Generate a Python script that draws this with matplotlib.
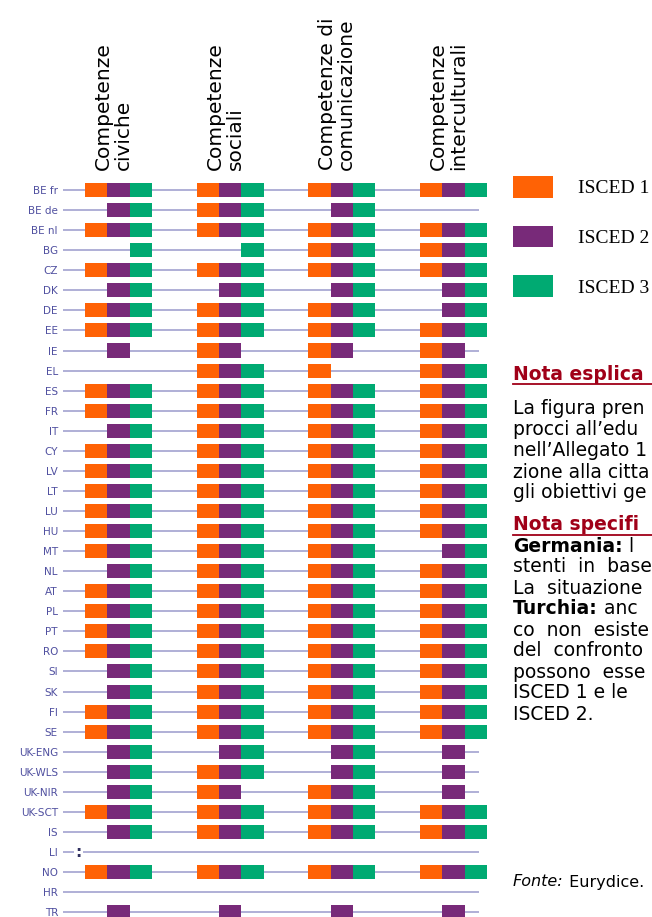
import matplotlib
matplotlib.use("Agg")
import matplotlib.pyplot as plt
from matplotlib.patches import Patch
from matplotlib.lines import Line2D

# countries, top to bottom
countries = ["BE fr", "BE de", "BE nl", "BG", "CZ", "DK", "DE", "EE", "IE", "EL",
             "ES", "FR", "IT", "CY", "LV", "LT", "LU", "HU", "MT", "NL",
             "AT", "PL", "PT", "RO", "SI", "SK", "FI", "SE", "UK-ENG", "UK-WLS",
             "UK-NIR", "UK-SCT", "IS", "LI", "NO", "HR", "TR"]

# ISCED levels covered (digits), ":" = data not available
civiche = ["123", "23", "123", "3", "123", "23", "123", "123", "2", "",
           "123", "123", "23", "123", "123", "123", "123", "123", "123", "23",
           "123", "123", "123", "123", "23", "23", "123", "123", "23", "23",
           "23", "123", "23", ":", "123", "", "2"]
sociali = ["123", "123", "123", "3", "123", "23", "123", "123", "12", "123",
           "123", "123", "123", "123", "123", "123", "123", "123", "123", "123",
           "123", "123", "123", "123", "123", "123", "123", "123", "23", "123",
           "12", "123", "123", "", "123", "", "2"]
comunicazione = ["123", "23", "123", "123", "123", "23", "123", "123", "12", "1",
                 "123", "123", "123", "123", "123", "123", "123", "123", "123", "123",
                 "123", "123", "123", "123", "123", "123", "123", "123", "23", "23",
                 "123", "123", "123", "", "123", "", "2"]
interculturali = ["123", "", "123", "123", "123", "23", "23", "123", "12", "123",
                  "123", "123", "123", "123", "123", "123", "123", "123", "23", "123",
                  "123", "123", "123", "123", "123", "123", "123", "123", "2", "2",
                  "2", "123", "123", "", "123", "", "2"]

columns = [civiche, sociali, comunicazione, interculturali]
headers = ["Competenze\nciviche", "Competenze\nsociali",
           "Competenze di\ncomunicazione", "Competenze\ninterculturali"]
levels = ["ISCED 1", "ISCED 2", "ISCED 3"]
colors = ["#ff6205", "#782a79", "#00aa72"]

# notes (the picture is cropped on the right, only the visible part is kept)
expl = ["La figura pren", "procci all\u2019edu", "nell\u2019Allegato 1",
        "zione alla citta", "gli obiettivi ge"]
spec = [("Germania:", " l"), ("", "stenti  in  base"), ("", "La  situazione"),
        ("Turchia:", " anc"), ("", "co  non  esiste"), ("", "del  confronto"),
        ("", "possono  esse"), ("", "ISCED 1 e le"), ("", "ISCED 2.")]

fig = plt.figure(figsize=(6.52, 9.17), dpi=100)
W, H = 652, 917
unit = 22.33
ax = fig.add_axes([(85 - unit) / W, 0, 19.4 * unit / W, 737 / H])
ax.set_xlim(-1, 18.4)
ax.set_ylim(36.24, -0.5)

rows = list(range(len(countries)))
ax.hlines(rows, -0.98, 17.65, color="#9a9acc", lw=1.1, zorder=1)

step = 5
for c, col in enumerate(columns):
    for l in range(3):
        r = [i for i, v in enumerate(col) if str(l + 1) in v]
        ax.barh(r, 1, left=step * c + l, height=0.7, color=colors[l], zorder=2)
    # headers
    ax.text(step * c + 1.5 - 0.22, -1.0, headers[c], rotation=90, ha="center",
            va="bottom", multialignment="left", fontsize=14.5, linespacing=1.05,
            clip_on=False)
    for i, v in enumerate(col):
        if v == ":":
            ax.text(step * c - 0.31, i, ":", ha="center", va="center",
                    fontsize=11, fontweight="bold", color="#303060", zorder=3,
                    bbox=dict(facecolor="white", edgecolor="none", pad=1.0))

ax.set_yticks(rows)
ax.set_yticklabels(countries, family=["Liberation Sans Narrow", "DejaVu Sans"],
                   fontsize=7.5, color="#5050a0")
ax.tick_params(axis="y", length=0, pad=3.4)
ax.set_xticks([])
for s in ax.spines.values():
    s.set_visible(False)

# legend
handles = [Patch(facecolor=colors[i], label=levels[i]) for i in range(3)]
fig.legend(handles=handles, loc="upper left", bbox_to_anchor=(513 / W, 1 - 176 / H),
           frameon=False, borderpad=0, borderaxespad=0, handlelength=2.06,
           handleheight=1.34, labelspacing=1.44, handletextpad=1.29,
           prop={"family": "Liberation Serif", "size": 14})

# notes
tx = 513 / W
fs = 13.5
red = "#a00018"
fig.text(tx, 1 - 374 / H, "Nota esplica", fontsize=fs, fontweight="bold",
         color=red, va="center")
fig.add_artist(Line2D([tx, 1], [1 - 384 / H] * 2, color=red, lw=1.3))
for k, s in enumerate(expl):
    fig.text(tx, 1 - (409 + 21 * k) / H, s, fontsize=fs, va="center")

fig.text(tx, 1 - 525 / H, "Nota specifi", fontsize=fs, fontweight="bold",
         color=red, va="center")
fig.add_artist(Line2D([tx, 1], [1 - 535 / H] * 2, color=red, lw=1.3))

for k, (b, s) in enumerate(spec):
    y = 1 - (546 + 21 * k) / H
    if b:
        tb = fig.text(tx, y, b, fontsize=fs, fontweight="bold", va="center")
        ax.annotate(s, xy=(1, 0), xycoords=tb, va="bottom", ha="left",
                    fontsize=fs, annotation_clip=False)
    else:
        fig.text(tx, y, s, fontsize=fs, va="center")

tf = fig.text(tx, 1 - 882 / H, "Fonte:", fontsize=11.5, style="italic", va="center")
ax.annotate(" Eurydice.", xy=(1, 0), xycoords=tf, va="bottom", ha="left",
            fontsize=11.5, annotation_clip=False)

fig.savefig("out.png", dpi=100)
